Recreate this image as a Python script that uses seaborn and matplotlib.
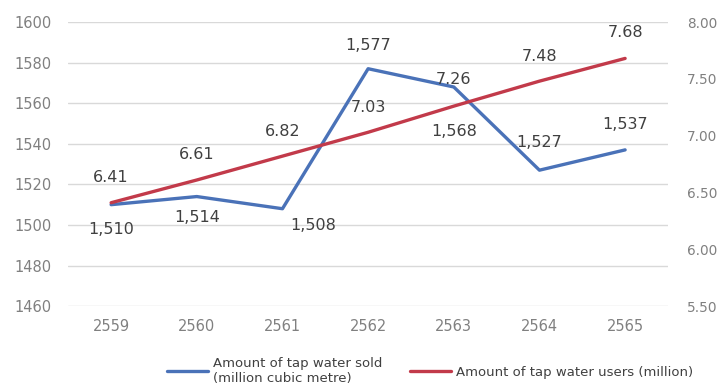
import matplotlib.pyplot as plt
import pandas as pd
import seaborn as sns

years = ["2559", "2560", "2561", "2562", "2563", "2564", "2565"]
water_sold = [1510, 1514, 1508, 1577, 1568, 1527, 1537]
water_users = [6.41, 6.61, 6.82, 7.03, 7.26, 7.48, 7.68]

sold_label = "Amount of tap water sold\n(million cubic metre)"
users_label = "Amount of tap water users (million)"

BLUE = "#4a72b8"
RED = "#c23a4a"
TICK = "#808080"
TEXT = "#404040"

df = pd.DataFrame({"year": years, "sold": water_sold, "users": water_users})

sns.set_theme(style="white")
plt.rcParams["font.family"] = ["DejaVu Sans"]

fig, ax = plt.subplots(figsize=(7.19, 3.87), dpi=100)
fig.subplots_adjust(left=0.095, right=0.929, top=0.943, bottom=0.209)
ax2 = ax.twinx()

sns.lineplot(data=df, x="year", y="sold", ax=ax, color=BLUE, linewidth=2.4,
             label=sold_label, legend=False)
sns.lineplot(data=df, x="year", y="users", ax=ax2, color=RED, linewidth=2.4,
             label=users_label, legend=False)

ax.set_ylim(1460, 1600)
ax.set_yticks(range(1460, 1601, 20))
ax2.set_ylim(5.5, 8.0)
ax2.set_yticks([5.5, 6.0, 6.5, 7.0, 7.5, 8.0])
ax2.set_yticklabels([f"{v:.2f}" for v in ax2.get_yticks()])
ax.set_xlim(-0.5, len(years) - 0.5)

ax.yaxis.grid(True, color="#d9d9d9", linewidth=1)
ax.set_axisbelow(True)
for a in (ax, ax2):
    for s in a.spines.values():
        s.set_visible(False)
    a.set_xlabel("")
    a.set_ylabel("")
    a.tick_params(axis="both", length=0, labelsize=10.5, colors=TICK)
ax.tick_params(axis="x", pad=9)
ax.tick_params(axis="y", pad=12)
ax2.tick_params(axis="y", pad=13.5, labelsize=9.8)

# data labels: offsets in points (dx, dy)
sold_offsets = [(0, -18), (0, -15), (22, -12), (0, 17), (0, -32), (0, 20), (0, 18)]
users_offsets = [(0, 18), (0, 18), (0, 18), (0, 18), (0, 19), (0, 18), (0, 19)]
for i, (v, off) in enumerate(zip(water_sold, sold_offsets)):
    ax.annotate(f"{v:,}", (i, v), xytext=off, textcoords="offset points",
                ha="center", va="center", fontsize=11.5, color=TEXT)
for i, (v, off) in enumerate(zip(water_users, users_offsets)):
    ax2.annotate(f"{v:.2f}", (i, v), xytext=off, textcoords="offset points",
                 ha="center", va="center", fontsize=11.5, color=TEXT)

h1, l1 = ax.get_legend_handles_labels()
h2, l2 = ax2.get_legend_handles_labels()
fig.legend(h1 + h2, l1 + l2, loc="lower center", bbox_to_anchor=(0.598, -0.025),
           ncol=2, frameon=False, fontsize=9.5, handlelength=3.1,
           handletextpad=0.4, columnspacing=2.05, labelcolor=TEXT)

fig.savefig("out.png", dpi=100)
